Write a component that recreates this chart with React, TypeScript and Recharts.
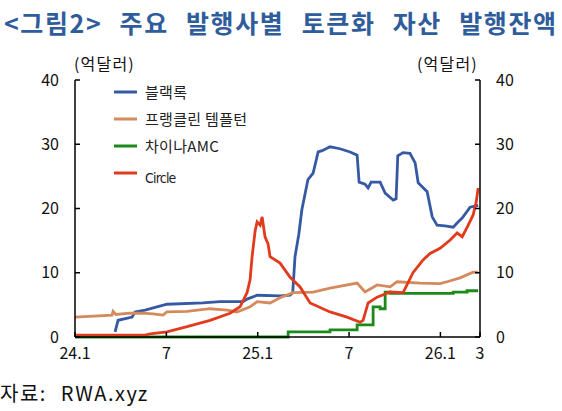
import { LineChart, Line, XAxis, YAxis } from 'recharts';

// x positions are months since 2024.1
const xTicks = [0, 6, 12, 18, 24, 26.6];
const xTickLabels = ['24.1', '7', '25.1', '7', '26.1', '3'];
const yTicks = [0, 10, 20, 30, 40];

const blackrockMonths = [2.63, 2.83, 3.75, 3.94, 4.6, 6.04, 8.4, 9.53, 11.04, 11.3, 11.96, 13.47, 14.13, 14.3, 14.45, 14.7, 14.9, 15.3, 15.64, 15.97, 16.23, 16.75, 17.4, 18.07, 18.53, 18.66, 19.05, 19.25, 19.45, 20.04, 20.37, 20.9, 21.09, 21.2, 21.55, 22.0, 22.34, 22.54, 23.13, 23.46, 23.78, 24.3, 24.84, 25.16, 25.43, 25.95, 26.48];
const blackrockValues = [0.8, 2.6, 3.1, 3.9, 4.2, 5.1, 5.3, 5.5, 5.5, 5.9, 6.5, 6.4, 6.5, 6.9, 12.5, 16, 19.8, 24.5, 25.5, 28.8, 29.0, 29.6, 29.3, 28.8, 28.3, 24.1, 23.8, 23.2, 24.1, 24.1, 22.4, 21.3, 21.5, 28.2, 28.7, 28.6, 27.1, 24.0, 22.6, 18.7, 17.4, 17.3, 17.1, 17.9, 18.5, 20.2, 20.5];

const franklinMonths = [0, 2.43, 2.5, 2.69, 3.61, 4.47, 5.12, 5.78, 6.04, 7.36, 8.87, 9.99, 10.64, 11.5, 11.96, 12.81, 13.47, 14.32, 15.64, 16.75, 18.53, 19.05, 19.84, 20.7, 21.15, 22.67, 23.98, 24.44, 25.29, 26.15, 26.48];
const franklinValues = [3.1, 3.4, 4.0, 3.5, 3.7, 3.7, 3.6, 3.4, 3.9, 4.0, 4.4, 4.2, 3.9, 4.7, 5.5, 5.3, 6.1, 6.9, 7.0, 7.6, 8.4, 7.0, 8.1, 7.8, 8.6, 8.4, 8.3, 8.6, 9.2, 10.1, 10.1];

const chinaAmcMonths = [0, 14.0, 16.75, 18.53, 19.58, 20.04, 20.37, 20.7, 24.84, 25.75, 26.48];
const chinaAmcValues = [0, 0.8, 1.1, 1.9, 4.7, 4.4, 7.0, 6.8, 7.0, 7.2, 7.2];

const circleMonths = [0, 4.6, 4.93, 6.04, 7.36, 8.87, 10.18, 10.84, 11.3, 11.5, 11.63, 11.83, 11.96, 12.16, 12.29, 12.48, 12.68, 12.81, 13.47, 14.13, 14.78, 15.44, 16.75, 17.87, 18.73, 18.92, 19.25, 19.84, 20.7, 21.55, 22.2, 22.86, 23.32, 23.98, 24.64, 25.1, 25.43, 25.76, 26.15, 26.35, 26.48];
const circleValues = [0.3, 0.3, 0.5, 0.8, 1.6, 2.6, 3.7, 4.7, 6.9, 8.9, 12.5, 16.5, 17.9, 17.4, 18.7, 15.6, 14.5, 12.5, 11.5, 9.3, 7.8, 5.3, 3.9, 3.1, 2.3, 2.6, 5.3, 6.2, 7.0, 6.9, 10.0, 12.0, 13.0, 13.8, 15.1, 16.2, 15.6, 17.1, 19.0, 21.0, 23.2];

const toRows = (months: number[], values: number[]) => months.map((m, i) => ({ m, v: values[i] }));

// both y axes share 0~40, franklin is drawn on the right one so that axis gets its ticks
const series = [
  { name: '블랙록', color: '#3559a3', data: toRows(blackrockMonths, blackrockValues), type: 'linear', axis: 'left' },
  { name: '프랭클린 템플턴', color: '#d48a5c', data: toRows(franklinMonths, franklinValues), type: 'linear', axis: 'right' },
  { name: '차이나AMC', color: '#1b8a1b', data: toRows(chinaAmcMonths, chinaAmcValues), type: 'stepAfter', axis: 'left' },
  { name: 'Circle', color: '#e23a1c', data: toRows(circleMonths, circleValues), type: 'linear', axis: 'left' },
];

const FONT = '"Noto Sans CJK KR", "Noto Sans", sans-serif';

function ChartLegend() {
  const rows = [92, 119, 146, 173];
  return (
    <g>
      {series.map((s, i) => (
        <g key={s.name}>
          <line x1={114} x2={137} y1={rows[i]} y2={rows[i]} stroke={s.color} strokeWidth={3} />
          <text
            x={145}
            y={rows[i] + (i === 3 ? 10 : 5.5)}
            fontSize={i === 3 ? 14 : 15}
            fill="#222"
            fontFamily={i === 3 ? '"Liberation Sans Narrow", "DejaVu Sans Condensed", sans-serif' : FONT}
            letterSpacing={i === 3 ? -0.8 : 0.3}
          >
            {s.name}
          </text>
        </g>
      ))}
    </g>
  );
}

export default function App() {
  const tickStyle = { fontSize: 16, fill: '#111', fontFamily: FONT };
  return (
    <div style={{ position: 'absolute', left: 0, top: 0, width: 562, height: 411, background: '#fff', fontFamily: FONT }}>
      <div
        style={{
          position: 'absolute',
          left: 4,
          top: 7,
          fontSize: 25,
          lineHeight: '30px',
          fontWeight: 700,
          color: '#2f5d9c',
          letterSpacing: 1.6,
          wordSpacing: 10,
          whiteSpace: 'nowrap',
        }}
      >
        {'<그림2> 주요 발행사별 토큰화 자산 발행잔액'}
      </div>
      <div style={{ position: 'absolute', left: 74, top: 52, fontSize: 16, lineHeight: '22px', letterSpacing: 1.2, color: '#111' }}>(억달러)</div>
      <div style={{ position: 'absolute', left: 417, top: 52, fontSize: 16, lineHeight: '22px', letterSpacing: 1.2, color: '#111' }}>(억달러)</div>
      <div style={{ position: 'absolute', left: 0, top: 380, fontSize: 20, lineHeight: '26px', letterSpacing: 1.5, wordSpacing: 8, color: '#111' }}>
        자료: RWA.xyz
      </div>
      <div style={{ position: 'absolute', left: 0, top: 0 }}>
        <LineChart width={562} height={411} margin={{ top: 80, right: 0, bottom: 0, left: 0 }}>
          <XAxis
            dataKey="m"
            type="number"
            domain={[0, 26.6]}
            ticks={xTicks}
            tickFormatter={(v: number) => xTickLabels[xTicks.indexOf(v)]}
            allowDuplicatedCategory={false}
            height={74}
            stroke="#000"
            strokeWidth={1.5}
            tickSize={-5}
            tickMargin={16}
            tick={tickStyle}
            interval={0}
          />
          <YAxis
            yAxisId="left"
            orientation="left"
            domain={[0, 40]}
            ticks={yTicks}
            width={75}
            stroke="#000"
            strokeWidth={1.5}
            tickSize={-5}
            tickMargin={21}
            tick={tickStyle}
            interval={0}
          />
          <YAxis
            yAxisId="right"
            orientation="right"
            domain={[0, 40]}
            ticks={yTicks}
            width={82}
            stroke="#000"
            strokeWidth={1.5}
            tickSize={-5}
            tickMargin={21}
            tick={tickStyle}
            interval={0}
          />
          {series.map((s) => (
            <Line
              key={s.name}
              yAxisId={s.axis}
              data={s.data}
              dataKey="v"
              type={s.type as any}
              stroke={s.color}
              strokeWidth={2.8}
              dot={false}
              isAnimationActive={false}
            />
          ))}
          <ChartLegend />
        </LineChart>
      </div>
    </div>
  );
}
